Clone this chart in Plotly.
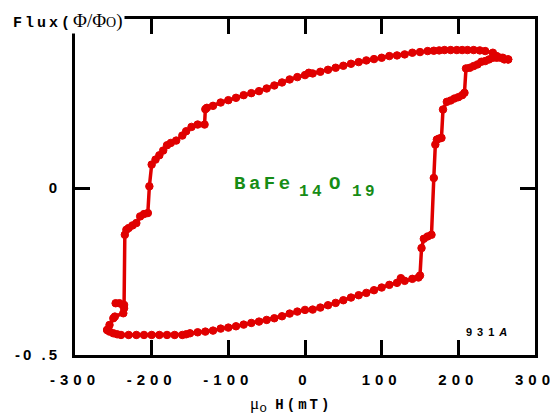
import plotly.graph_objects as go

# Upper (descending-field) branch
h_down = [265, 258, 250, 245, 235, 228, 220, 212, 205, 198, 190, 182, 175, 168, 160, 150, 140,
          130, 120, 110, 100, 90, 80, 70, 60, 50, 40, 30, 20, 10, 5, 0, -10, -20, -30, -40,
          -50, -60, -70, -80, -90, -100, -110, -120, -128, -130, -131, -140, -148, -155, -160,
          -168, -175, -180, -185, -190, -195, -200, -203, -205, -210, -215, -220, -225, -230,
          -233, -235, -236, -242, -247, -236, -237, -248, -250, -255, -258]
m_down = [0.385, 0.39, 0.395, 0.405, 0.41, 0.412, 0.413, 0.413, 0.413, 0.413, 0.413, 0.413,
          0.412, 0.411, 0.41, 0.407, 0.405, 0.40, 0.397, 0.395, 0.39, 0.386, 0.382, 0.377,
          0.372, 0.366, 0.36, 0.354, 0.348, 0.343, 0.345, 0.338, 0.332, 0.325, 0.316, 0.307,
          0.298, 0.29, 0.284, 0.278, 0.27, 0.263, 0.256, 0.246, 0.24, 0.236, 0.19, 0.19, 0.183,
          0.17, 0.157, 0.142, 0.135, 0.128, 0.112, 0.098, 0.085, 0.07, 0.005, -0.075, -0.078,
          -0.085, -0.105, -0.112, -0.12, -0.125, -0.14, -0.35, -0.345, -0.345, -0.36, -0.375,
          -0.385, -0.39, -0.41, -0.425]

# Lower (ascending-field) branch
h_up = [-258, -255, -250, -245, -240, -230, -220, -210, -200, -190, -180, -170, -160, -155,
        -150, -140, -130, -120, -110, -100, -90, -80, -70, -60, -50, -40, -30, -20, -10, 0, 10,
        20, 30, 40, 50, 60, 70, 80, 90, 100, 110, 120, 125, 130, 140, 148, 150, 152, 155, 160,
        165, 168, 170, 172, 175, 178, 180, 185, 190, 195, 200, 205, 208, 210, 215, 220, 225,
        230, 235, 240, 245, 250, 255, 260, 265]
m_up = [-0.425, -0.43, -0.435, -0.438, -0.44, -0.44, -0.44, -0.44, -0.44, -0.44, -0.44, -0.44,
        -0.44, -0.438, -0.435, -0.432, -0.43, -0.427, -0.421, -0.418, -0.414, -0.409, -0.404,
        -0.4, -0.395, -0.39, -0.384, -0.376, -0.37, -0.365, -0.364, -0.358, -0.351, -0.344,
        -0.336, -0.328, -0.321, -0.314, -0.306, -0.298, -0.29, -0.284, -0.27, -0.278, -0.272,
        -0.268, -0.262, -0.18, -0.152, -0.145, -0.14, 0.03, 0.13, 0.145, 0.148, 0.15, 0.235,
        0.258, 0.262, 0.268, 0.272, 0.278, 0.285, 0.358, 0.36, 0.365, 0.37, 0.378, 0.38,
        0.385, 0.39, 0.39, 0.39, 0.385, 0.385]

x_ticks = [-300, -200, -100, 0, 100, 200, 300]
x_ticklabels = ["-300", "-200", "-100", "0", "100", "200", "300"]
y_ticks = [-0.5, 0]
y_ticklabels = ["-0 .5", "0"]


def spaced(s, px):
    return "<span style='letter-spacing:%spx'>%s</span>" % (px, s)


red = "#e00000"
green = "#168c16"
fig = go.Figure()
for hx, my in [(h_down, m_down), (h_up, m_up)]:
    fig.add_trace(go.Scatter(
        x=hx, y=my, mode="lines+markers",
        line=dict(color=red, width=3.5),
        marker=dict(color=red, size=7.5, line=dict(color=red, width=1)),
        showlegend=False, hoverinfo="skip"))

sans = "Liberation Sans"
mono = "Liberation Mono"
axis_common = dict(
    showline=True, linecolor="black", linewidth=3, mirror="ticks",
    ticks="inside", ticklen=15, tickwidth=3, tickcolor="black",
    showgrid=False, zeroline=False, automargin=False,
    tickfont=dict(family=sans, size=15, color="black", weight="bold"),
)
fig.update_xaxes(range=[-300, 300], tickvals=x_ticks, ticklabelstandoff=9,
                 ticktext=[spaced(t, 5) for t in x_ticklabels], **axis_common)
fig.update_yaxes(range=[-0.5, 0.506], tickvals=y_ticks, ticklabelstandoff=9,
                 ticktext=[spaced(t, 3) for t in y_ticklabels], **axis_common)

# compound label BaFe14O19 (pieces placed left-anchored)
pieces = [("BaFe", -95.0, 0.012, 19, 3.5),
          ("14", -10.5, -0.013, 16, 3.5),
          ("O", 28.5, 0.012, 19, 3.5),
          ("19", 58.5, -0.013, 16, 3.5)]
for txt, px_, py_, fs, ls in pieces:
    fig.add_annotation(x=px_, y=py_, xref="x", yref="y", showarrow=False,
                       xanchor="left", yanchor="middle",
                       text=spaced(txt, ls),
                       font=dict(family=mono, size=fs, color=green, weight="bold"))

fig.add_annotation(x=207, y=-0.43, xref="x", yref="y", showarrow=False,
                   xanchor="left", yanchor="middle",
                   text=spaced("931", 5) + "<i>A</i>",
                   font=dict(family=sans, size=11, color="black", weight="bold"))

W, H = 550, 411
L, R, T, B = 67, 23, 11, 64
pw, ph = W - L - R, H - T - B

fig.add_annotation(x=(3 - L) / pw, y=(ph + T - 13) / ph, xref="paper", yref="paper",
                   showarrow=False,
                   text="<b>" + spaced("Flux(", 3) + "</b>"
                   + "<span style='font-family:Liberation Serif;font-size:19px'>Φ/Φ"
                   + "<span style='font-size:14px'>O</span>)</span>",
                   font=dict(family=mono, size=15, color="black"),
                   bgcolor="white", xanchor="left", yanchor="middle")
fig.add_annotation(x=(283 - L) / pw, y=-50 / ph, xref="paper", yref="paper", showarrow=False,
                   text="<span style='font-family:Liberation Serif;font-size:17px'>μ</span>"
                   + "<sub><span style='font-size:13px'>o</span></sub> <b>" + spaced("H(mT)", 3) + "</b>",
                   font=dict(family=mono, size=14, color="black"),
                   xanchor="center", yanchor="middle")

fig.update_layout(
    width=W, height=H,
    margin=dict(l=L, r=R, t=T, b=B, autoexpand=False),
    paper_bgcolor="white", plot_bgcolor="white",
)
fig.write_html("out.html")
